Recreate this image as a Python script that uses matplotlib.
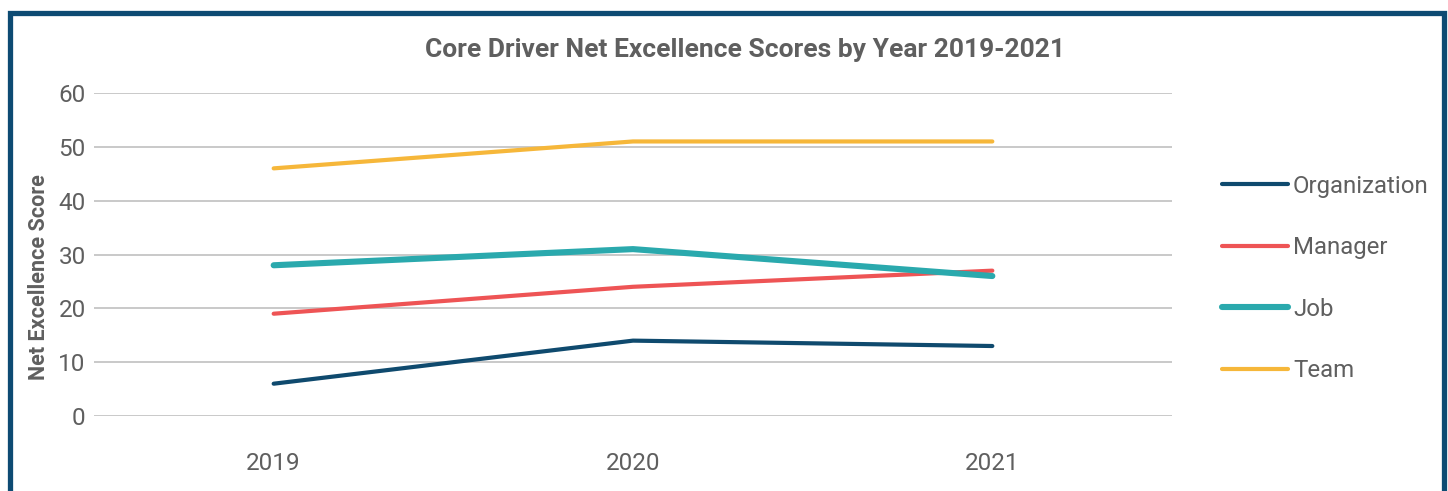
import matplotlib
matplotlib.use('Agg')
import matplotlib.pyplot as plt
from matplotlib.patches import Rectangle

years = ['2019', '2020', '2021']
organization = [6, 14, 13]
manager = [19, 24, 27]
job = [28, 31, 26]
team = [46, 51, 51]
y_ticks = [0, 10, 20, 30, 40, 50, 60]

plt.rcParams['font.family'] = ['Roboto', 'DejaVu Sans']
text_gray = '#5f5f5f'

W, H = 1448, 491
fig = plt.figure(figsize=(W / 100, H / 100), dpi=100, facecolor='white')

# dark blue frame, open at the bottom edge
fig.patches.append(Rectangle((9.5 / W, -0.2), 1434.5 / W, 1.2 - 12.5 / H,
                             transform=fig.transFigure, fill=False,
                             edgecolor='#0d4b73', linewidth=3.8))

ax = fig.add_axes([94 / W, 1 - 416 / H, 1078 / W, 323 / H])
x = range(len(years))
ax.plot(x, organization, color='#0f4a6e', lw=3.0, solid_capstyle='round', label='Organization')
ax.plot(x, manager, color='#ee5455', lw=3.0, solid_capstyle='round', label='Manager')
ax.plot(x, job, color='#2aa9ad', lw=4.4, solid_capstyle='round', label='Job')
ax.plot(x, team, color='#f6b73a', lw=3.0, solid_capstyle='round', label='Team')

ax.set_xlim(-0.5, 2.5)
ax.set_ylim(0, 60)
ax.set_xticks(list(x))
ax.set_xticklabels(years)
ax.set_yticks(y_ticks)
ax.grid(axis='y', color='#c0c0c0', lw=1.2)
ax.set_axisbelow(True)
for s in ax.spines.values():
    s.set_visible(False)
ax.tick_params(axis='both', length=0, labelsize=17.5, labelcolor=text_gray)
ax.tick_params(axis='x', pad=26)
ax.tick_params(axis='y', pad=6)

# axis title sits a little below the axes centre
fig.text(39 / W, 1 - 277.5 / H, 'Net Excellence Score', rotation=90,
         ha='center', va='center', fontsize=15.5, fontweight='bold', color=text_gray)
fig.text(745 / W, 1 - 50 / H, 'Core Driver Net Excellence Scores by Year 2019-2021',
         ha='center', va='center', fontsize=19, fontweight='bold', color=text_gray)

leg = fig.legend(loc='center left', bbox_to_anchor=(1222 / W, 1 - 278.5 / H),
                 frameon=False, fontsize=17.3, handlelength=2.75, handletextpad=0.2,
                 labelspacing=1.6, borderpad=0, borderaxespad=0)
for t in leg.get_texts():
    t.set_color(text_gray)

fig.savefig('out.png', dpi=100, facecolor='white')
